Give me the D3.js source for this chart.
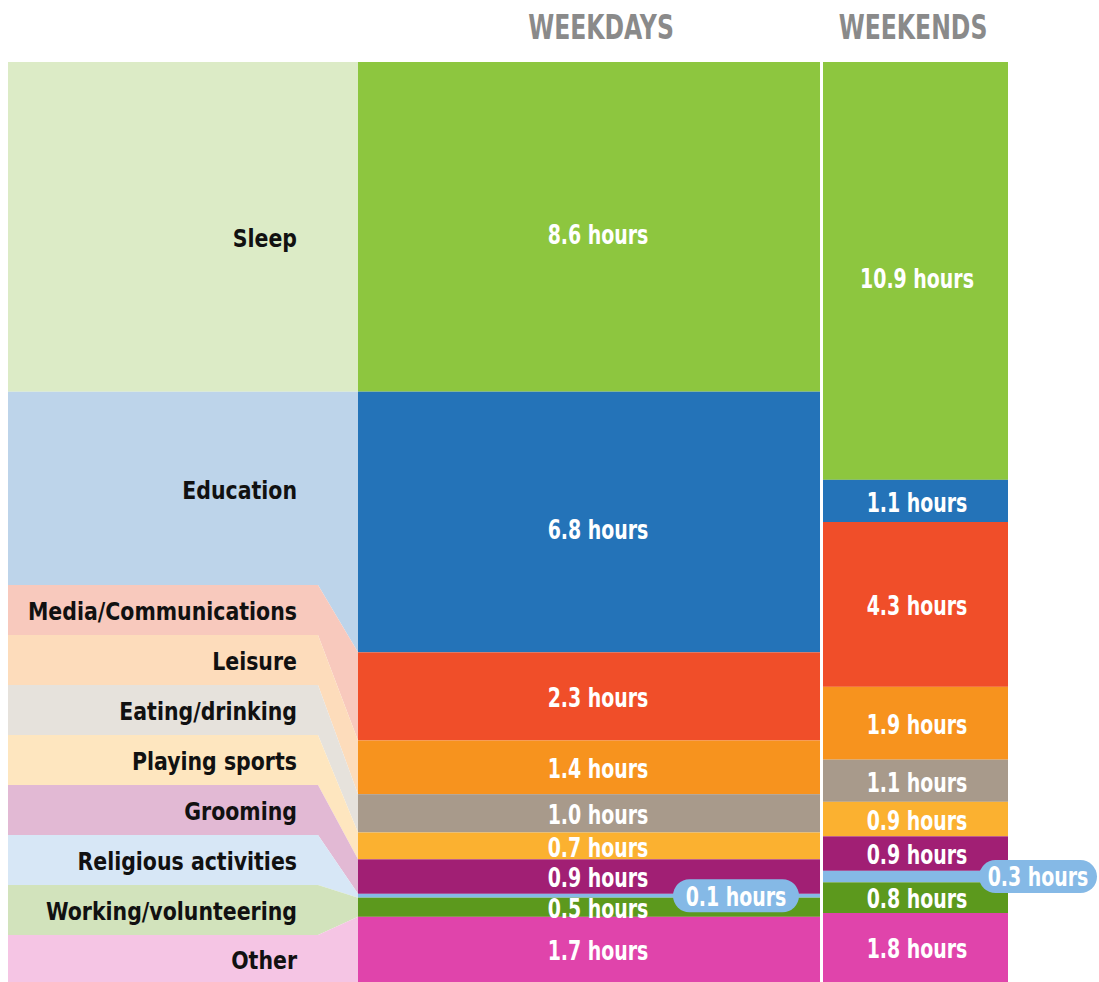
<!DOCTYPE html>
<html>
<head>
<meta charset="utf-8">
<script src="https://cdn.jsdelivr.net/npm/d3@7"></script>
<style>
  body { margin: 0; background: #fff; }
  text { font-family: "Liberation Sans Narrow", "DejaVu Sans Condensed", sans-serif; font-weight: bold; }
</style>
</head>
<body>
<svg id="chart" width="1099" height="982"></svg>
<script>
// activities, top to bottom
const activities = ["Sleep", "Education", "Media/Communications", "Leisure", "Eating/drinking",
  "Playing sports", "Grooming", "Religious activities", "Working/volunteering", "Other"];
const weekdays = [8.6, 6.8, 2.3, 1.4, 1.0, 0.7, 0.9, 0.1, 0.5, 1.7];
const weekends = [10.9, 1.1, 4.3, 1.9, 1.1, 0.9, 0.9, 0.3, 0.8, 1.8];
const columns = ["WEEKDAYS", "WEEKENDS"];

const colors = ["#8dc63f", "#2473b8", "#f04e29", "#f7931e", "#a89a8b",
  "#fbb130", "#a11f74", "#85b9e6", "#5c991d", "#e044ab"];
const lightColors = ["#dcebc6", "#bdd4ea", "#f8c9bd", "#fddcbb", "#e6e2dc",
  "#fee6bf", "#e2b9d4", "#d7e7f6", "#d2e3bc", "#f5c5e4"];

const svg = d3.select("#chart");
const topY = 62, bottomY = 982;
const y = d3.scaleLinear().domain([0, 24]).range([topY, bottomY]);

// condensed text: squeeze horizontally around the anchor point
function label(g, x, yy, sx) {
  return g.append("text")
    .attr("transform", `translate(${x},${yy}) scale(${sx},1)`)
    .attr("dominant-baseline", "central");
}

const cols = [
  { name: columns[0], values: weekdays, x0: 358, x1: 820, tx: 598, hx: 601 },
  { name: columns[1], values: weekends, x0: 823, x1: 1008, tx: 917, hx: 913 }
];
cols.forEach(c => {
  const ends = Array.from(d3.cumsum(c.values));
  c.segs = c.values.map((v, i) => ({ i, v, y0: y(ends[i] - v), y1: y(ends[i]) }));
});

// left label bands
const labelX0 = 8, labelX1 = 318, firstBand = 585, bandH = 50;
const wd = cols[0].segs;
const bands = activities.map((a, i) => {
  let t, b;
  if (i === 0) { t = wd[0].y0; b = wd[0].y1; }
  else if (i === 1) { t = wd[1].y0; b = firstBand; }
  else { t = firstBand + bandH * (i - 2); b = Math.min(t + bandH, bottomY); }
  return { a, i, t, b };
});

const left = svg.append("g");
left.selectAll("path").data(bands).join("path")
  .attr("fill", d => lightColors[d.i])
  .attr("d", d => {
    const s = wd[d.i];
    if (d.i === 0) return `M${labelX0},${s.y0}H${cols[0].x0}V${s.y1}H${labelX0}Z`;
    if (d.i === 1) return `M${labelX0},${s.y0}H${cols[0].x0}V${s.y1}L${labelX1},${d.b}H${labelX0}Z`;
    return `M${labelX0},${d.t}H${labelX1}L${cols[0].x0},${s.y0}V${s.y1}L${labelX1},${d.b}H${labelX0}Z`;
  });

bands.forEach(d => {
  label(left, 297, (d.t + d.b) / 2 + (d.i === 0 ? 12 : 2), 0.95)
    .attr("text-anchor", "end")
    .attr("font-size", 24)
    .attr("fill", "#111")
    .text(d.a);
});

// columns
cols.forEach((c, ci) => {
  const g = svg.append("g");
  label(g, c.hx, 27, 0.77)
    .attr("text-anchor", "middle")
    .attr("font-size", 34)
    .attr("fill", "#8a8a8a")
    .text(c.name);

  g.selectAll("rect").data(c.segs).join("rect")
    .attr("x", c.x0)
    .attr("width", c.x1 - c.x0)
    .attr("y", d => d.y0)
    .attr("height", d => d.y1 - d.y0)
    .attr("fill", d => colors[d.i]);

  c.segs.filter(d => d.i !== 7).forEach(d => {
    label(g, c.tx, (d.y0 + d.y1) / 2 + (d.v > 5 ? 8 : 2), 0.81)
      .attr("text-anchor", "middle")
      .attr("font-size", 26)
      .attr("fill", "#fff")
      .text(`${d.v.toFixed(1)} hours`);
  });

  // callout pill for the thin religious segment
  const pillCx = ci === 0 ? 736 : 1038, pillW = ci === 0 ? 126 : 118, pillH = 33;
  c.segs.filter(d => d.i === 7).forEach(d => {
    const cy = (d.y0 + d.y1) / 2;
    g.append("rect")
      .attr("x", pillCx - pillW / 2).attr("y", cy - pillH / 2)
      .attr("width", pillW).attr("height", pillH)
      .attr("rx", pillH / 2)
      .attr("fill", colors[7]);
    label(g, pillCx, cy + 1, 0.81)
      .attr("text-anchor", "middle")
      .attr("font-size", 26)
      .attr("fill", "#fff")
      .text(`${d.v.toFixed(1)} hours`);
  });
});
</script>
</body>
</html>
